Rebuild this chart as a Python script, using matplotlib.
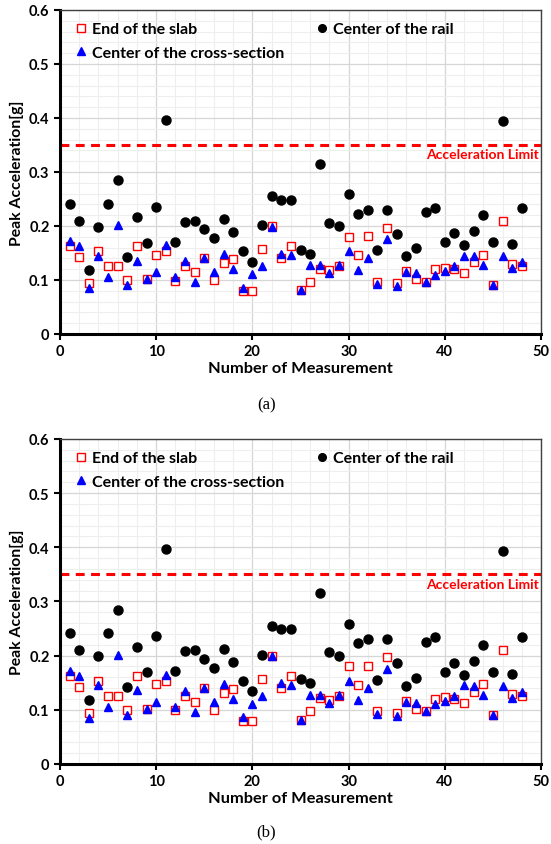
import matplotlib
matplotlib.use("Agg")
import matplotlib.pyplot as plt
from matplotlib.ticker import MultipleLocator

plt.rcParams['font.family'] = ['Lato', 'DejaVu Sans']

# номер измерения
n_meas = list(range(1, 49))

# конец плиты
slab = [0.162, 0.143, 0.094, 0.154, 0.125, 0.125, 0.100, 0.162, 0.101, 0.147,
        0.154, 0.099, 0.125, 0.114, 0.140, 0.100, 0.131, 0.139, 0.079, 0.080,
        0.157, 0.200, 0.140, 0.162, 0.082, 0.097, 0.121, 0.118, 0.126, 0.180,
        0.146, 0.181, 0.097, 0.197, 0.095, 0.117, 0.101, 0.097, 0.120, 0.123,
        0.120, 0.113, 0.133, 0.147, 0.090, 0.210, 0.130, 0.126]

# центр рельса
rail = [0.241, 0.210, 0.119, 0.199, 0.241, 0.285, 0.142, 0.216, 0.169, 0.236,
        0.396, 0.171, 0.208, 0.210, 0.194, 0.177, 0.212, 0.189, 0.153, 0.134,
        0.202, 0.255, 0.249, 0.249, 0.156, 0.149, 0.315, 0.206, 0.200, 0.259,
        0.223, 0.230, 0.155, 0.230, 0.186, 0.144, 0.159, 0.225, 0.234, 0.170,
        0.187, 0.164, 0.190, 0.220, 0.170, 0.394, 0.167, 0.234]

# центр сечения
cross = [0.172, 0.162, 0.085, 0.145, 0.105, 0.202, 0.091, 0.136, 0.101, 0.115,
         0.164, 0.106, 0.135, 0.096, 0.140, 0.115, 0.148, 0.120, 0.086, 0.111,
         0.125, 0.199, 0.149, 0.146, 0.081, 0.127, 0.128, 0.112, 0.128, 0.154,
         0.119, 0.140, 0.092, 0.175, 0.088, 0.115, 0.113, 0.097, 0.110, 0.117,
         0.125, 0.145, 0.144, 0.127, 0.091, 0.144, 0.122, 0.133]

acc_limit = 0.35


def panel(ax):
    ax.plot(n_meas, slab, 's', ms=5.6, mfc='white', mec='red', mew=1.0,
            label='End of the slab', zorder=3)
    ax.plot(n_meas, cross, '^', ms=5.4, color='blue', mec='blue',
            label='Center of the cross-section', zorder=4)
    ax.plot(n_meas, rail, 'o', ms=6.5, color='black',
            label='Center of the rail', zorder=3)
    ax.axhline(acc_limit, color='red', lw=2.2, ls=(0, (2.9, 2.1)), zorder=2)
    ax.text(49.8, acc_limit - 0.006, 'Acceleration Limit', color='red',
            fontsize=10, fontweight='bold', ha='right', va='top')

    ax.set_xlim(0, 50)
    ax.set_ylim(0, 0.6)
    ax.xaxis.set_major_locator(MultipleLocator(10))
    ax.xaxis.set_minor_locator(MultipleLocator(2))
    ax.yaxis.set_major_locator(MultipleLocator(0.1))
    ax.yaxis.set_minor_locator(MultipleLocator(0.02))
    ax.set_yticks([0, 0.1, 0.2, 0.3, 0.4, 0.5, 0.6])
    ax.set_yticklabels(['0', '0.1', '0.2', '0.3', '0.4', '0.5', '0.6'])
    ax.grid(which='major', color='#d6d6d6', lw=0.9)
    ax.grid(which='minor', color='#eeeeee', lw=0.8)
    ax.set_axisbelow(True)
    ax.tick_params(which='major', direction='out', length=4, width=1.5,
                   labelsize=10.5)
    ax.tick_params(which='minor', length=0)
    for lab in ax.get_xticklabels() + ax.get_yticklabels():
        lab.set_fontweight('bold')
    for s in ('left', 'bottom'):
        ax.spines[s].set_linewidth(2.2)
        ax.spines[s].set_color('black')
    for s in ('top', 'right'):
        ax.spines[s].set_linewidth(1.0)
        ax.spines[s].set_color('#404040')

    ax.set_xlabel('Number of Measurement', fontsize=11.8, fontweight='bold',
                  labelpad=2)
    ax.set_ylabel('Peak Acceleration[g]', fontsize=11.3, fontweight='bold',
                  labelpad=4)

    leg = ax.legend(ncol=2, loc='upper left', bbox_to_anchor=(0.0, 1.0),
                    frameon=False, handletextpad=0.15,
                    columnspacing=1.8, labelspacing=0.6, handlelength=1.1,
                    borderaxespad=0.35, prop={'weight': 'bold', 'size': 11.5})
    for h in leg.legend_handles:
        h.set_markersize(5.5)


fig = plt.figure(figsize=(5.51, 8.45), dpi=100)
ax1 = fig.add_axes([0.1089, 0.6036, 0.873, 0.3834])
ax2 = fig.add_axes([0.1089, 0.0947, 0.873, 0.3846])
panel(ax1)
panel(ax2)

fig.text(0.483, 1 - 405 / 845, '(a)', ha='center', va='center',
         fontsize=12, family='Liberation Serif')
fig.text(0.483, 1 - 832 / 845, '(b)', ha='center', va='center',
         fontsize=12, family='Liberation Serif')

fig.savefig('out.png', dpi=100)
